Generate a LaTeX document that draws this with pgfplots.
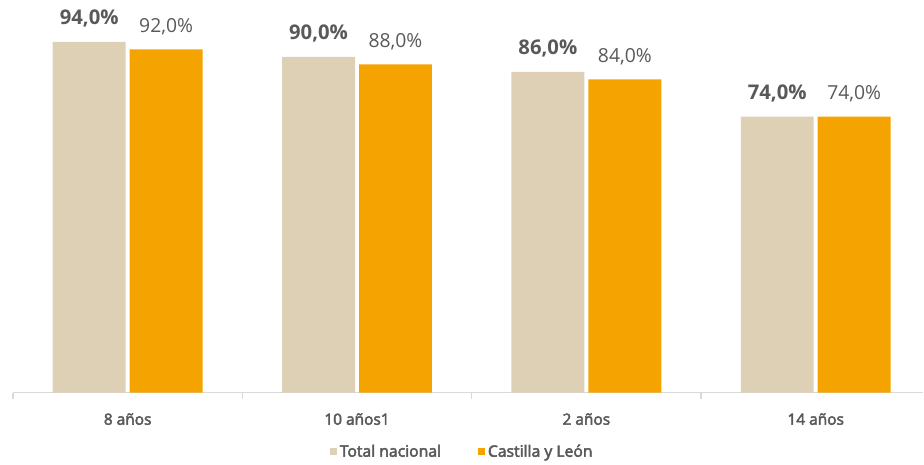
\documentclass[border=0pt]{standalone}
\usepackage{pgfplots}
\pgfplotsset{compat=1.18}
\usepackage{fontspec}
\setmainfont{Open Sans}
\newcommand\semi[1]{\special{pdf:literal direct 2 Tr 0.35 w}#1\special{pdf:literal direct 0 Tr}}
\definecolor{beige}{HTML}{DDD0B4}
\definecolor{naranja}{HTML}{F4A300}
\definecolor{txt}{HTML}{595959}
\definecolor{axl}{HTML}{D9D9D9}
\begin{document}
\begin{tikzpicture}
\begin{axis}[
  scale only axis,
  width=683.25pt, height=280.05pt,
  xmin=-0.5, xmax=3.4695,
  ymin=0, ymax=100,
  axis x line=bottom, axis y line=none,
  x axis line style={-, draw=axl, line width=0.9pt},
  xtick={0,1,2,3},
  xticklabels={\semi{8 años},\semi{10 años1},\semi{2 años},\semi{14 años}},
  major tick length=0pt,
  minor xtick={-0.5,0.5,1.5,2.5},
  minor tick length=5pt,
  tick align=outside,
  every tick/.style={draw=axl, line width=0.9pt},
  xticklabel style={font=\fontsize{11.6}{14}\selectfont, text=txt, anchor=base, yshift=-24pt},
  clip=false,
  ybar, bar width=54.75pt,
  legend style={draw=none, at={(rel axis cs:0.494,-0.158)}, anchor=center,
    font=\fontsize{11.8}{14}\selectfont, text=txt, legend columns=2,
    /tikz/every even column/.append style={column sep=26pt}},
  legend image code/.code={\fill[#1,draw=none] (0pt,-2.6pt) rectangle (5.2pt,2.6pt);},
  nodes near coords={\pgfmathprintnumber[fixed,fixed zerofill,precision=1,use comma,assume math mode=true]{\pgfplotspointmeta}\%},
]
\addplot[fill=beige, draw=none, bar shift=-28.875pt,
  every node near coord/.append style={anchor=base, yshift=12.75pt, font=\bfseries\fontsize{15.2}{17}\selectfont, text=txt}]
  coordinates {(0,94) (1,90) (2,86) (3,74)};
\addlegendentry{\semi{Total nacional}}
\addplot[fill=naranja, draw=none, bar shift=28.875pt,
  every node near coord/.append style={anchor=base, yshift=12.75pt, font=\fontsize{14.5}{16}\selectfont, text=txt}]
  coordinates {(0,92) (1,88) (2,84) (3,74)};
\addlegendentry{\semi{Castilla y León}}
\path[use as bounding box] (rel axis cs:-0.01427,-0.1875) rectangle (rel axis cs:1,1.0525);
\end{axis}
\end{tikzpicture}
\end{document}
